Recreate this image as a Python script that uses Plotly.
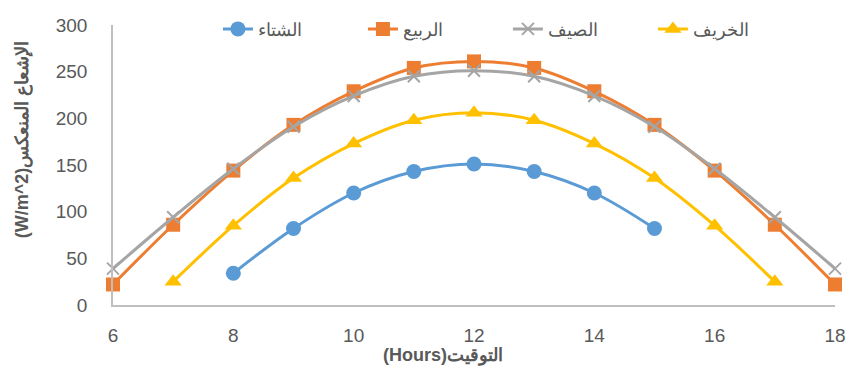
import plotly.graph_objects as go

# Hours of the day
hours_winter = [8, 9, 10, 11, 12, 13, 14, 15]
hours_spring = [6, 7, 8, 9, 10, 11, 12, 13, 14, 15, 16, 17, 18]
hours_summer = [6, 7, 8, 9, 10, 11, 12, 13, 14, 15, 16, 17, 18]
hours_autumn = [7, 8, 9, 10, 11, 12, 13, 14, 15, 16, 17]

# Reflected irradiance (W/m^2) per season
winter = [34, 82, 120, 143, 151, 143, 120, 82]
spring = [22, 86, 144, 193, 229, 254, 261, 254, 229, 193, 144, 86, 22]
summer = [39, 94, 146, 191, 224, 245, 251, 245, 224, 191, 146, 94, 39]
autumn = [25, 85, 136, 173, 198, 206, 198, 173, 136, 85, 25]

series = [
    ("الشتاء", hours_winter, winter, "#5B9BD5", "circle", 15),
    ("الربيع", hours_spring, spring, "#ED7D31", "square", 14),
    ("الصيف", hours_summer, summer, "#A5A5A5", "x-thin", 12),
    ("الخريف", hours_autumn, autumn, "#FFC000", "triangle-up", 15),
]

x_ticks = [6, 8, 10, 12, 14, 16, 18]
y_ticks = [0, 50, 100, 150, 200, 250, 300]

fig = go.Figure()
for name, xs, ys, color, symbol, size in series:
    marker = dict(symbol=symbol, size=size, color=color)
    if symbol == "x-thin":
        marker["line"] = dict(color=color, width=2)
    fig.add_trace(go.Scatter(
        x=xs, y=ys, name=name, mode="lines+markers",
        line=dict(color=color, width=3, shape="spline", smoothing=1),
        marker=marker, cliponaxis=False,
    ))

FONT = "Liberation Sans, Arial, sans-serif"
axis_font = dict(family=FONT, size=19, color="#595959")
title_font = dict(family=FONT, size=18, color="#595959")

fig.update_layout(
    width=857, height=374,
    margin=dict(l=113, r=11, t=20, b=69),
    plot_bgcolor="white", paper_bgcolor="white",
    font=axis_font,
    showlegend=True,
    legend=dict(
        orientation="h", x=0.547, xanchor="center", y=0.985, yanchor="middle",
        font=dict(family=FONT, size=18, color="#595959"),
        bgcolor="rgba(0,0,0,0)", entrywidth=100, entrywidthmode="pixels",
    ),
    xaxis=dict(
        range=[6, 18], tickvals=x_ticks, showgrid=False, zeroline=False,
        showline=True, linecolor="#BFBFBF", linewidth=1.5,
        ticks="", ticklabelstandoff=12, tickfont=axis_font,
    ),
    yaxis=dict(
        range=[0, 300], tickvals=y_ticks, showgrid=False, zeroline=False,
        showline=True, linecolor="#BFBFBF", linewidth=1.5,
        ticks="", ticklabelstandoff=20, tickfont=axis_font,
    ),
    annotations=[
        dict(text="<b>(Hours)التوقيت</b>", xref="paper", yref="paper",
             x=(448 - 113) / (857 - 113 - 11), y=-(356 - 305) / (305 - 20),
             xanchor="center", yanchor="middle", showarrow=False,
             font=title_font),
        dict(text="<b>(W/m^2)الإشعاع المنعكس</b>", xref="paper", yref="paper",
             x=-(113 - 22) / (857 - 113 - 11), y=(305 - 136) / (305 - 20),
             xanchor="center", yanchor="middle", textangle=-90, showarrow=False,
             font=title_font),
    ],
)

fig.write_html("out.html")
